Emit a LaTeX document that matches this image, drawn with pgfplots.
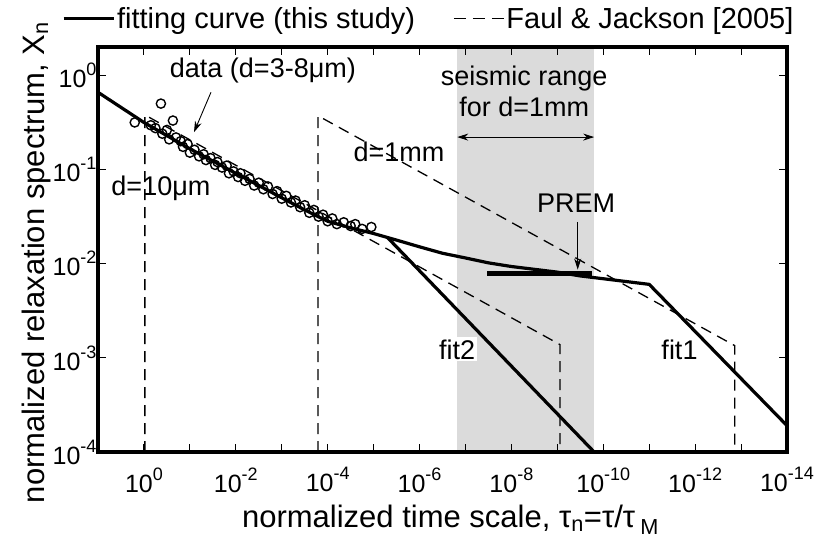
\documentclass[border=0pt]{standalone}
\usepackage{fontspec}
\setmainfont{Liberation Sans}
\usepackage{pgfplots}
\pgfplotsset{compat=1.18}
\usetikzlibrary{arrows.meta}
\newcommand{\tp}[1]{10\raisebox{12bp}{\fontsize{18bp}{18bp}\selectfont #1}}
\begin{document}
\begin{tikzpicture}
\begin{axis}[
  name=ax, at={(0bp,0bp)}, anchor=south west,
  scale only axis, width=689bp, height=405bp,
  xmode=log, ymode=log, x dir=reverse,
  xmin=1e-14, xmax=10, ymin=1e-4, ymax=2,
  axis on top,
  axis line style={line width=3.5bp},
  tick align=inside,
  major tick length=8bp, minor tick length=4.5bp,
  every tick/.style={black, line width=0.9bp},
  xtick={1,1e-1,1e-2,1e-3,1e-4,1e-5,1e-6,1e-7,1e-8,1e-9,1e-10,1e-11,1e-12,1e-13,1e-14},
  xticklabels={\tp{0},,\tp{-2},,\tp{-4},,\tp{-6},,\tp{-8},,\tp{-10},,\tp{-12},,\tp{-14}},
  ytick={1,1e-1,1e-2,1e-3,1e-4},
  yticklabels={\tp{0},\tp{-1},\tp{-2},\tp{-3},\tp{-4}},
  ticklabel style={font=\fontsize{25bp}{29bp}\selectfont},
  yticklabel style={xshift=2bp},
  xticklabel style={yshift=-12bp},
  label style={font=\fontsize{31bp}{35bp}\selectfont},
  xlabel={normalized time scale, τ\textsubscript{n}=τ/τ\,\textsubscript{M}},
  xlabel style={xshift=8bp, yshift=-6bp},
  ylabel={normalized relaxation spectrum, X\textsubscript{n}},
  ylabel style={yshift=-5bp, xshift=-13bp},
  legend style={draw=none, fill=none, at={(0.48,1)}, anchor=south, yshift=14bp,
    font=\fontsize{29bp}{33bp}\selectfont, inner sep=1bp,
    /tikz/every even column/.append style={column sep=36bp}},
  legend columns=2,
  legend image code/.code={\draw[#1] (0bp,0bp) -- (50bp,0bp);},
]
% seismic range band
\addplot[fill=black!14, draw=none, forget plot] coordinates {(1.51e-7,1e-4) (1.51e-7,2) (1.58e-10,2) (1.58e-10,1e-4)} -- cycle;

\addlegendimage{black, line width=3bp}
\addlegendentry{fitting curve (this study)}
\addlegendimage{black, line width=1.3bp, dash pattern=on 12bp off 7bp}
\addlegendentry{Faul \& Jackson [2005]}

% Faul & Jackson d=10um
\addplot[black, line width=1.3bp, dash pattern=on 11bp off 7bp, forget plot] coordinates {(0.955,1e-4) (0.955,0.380) (8.71e-10,1.38e-3) (8.71e-10,1e-4)};
% Faul & Jackson d=1mm
\addplot[black, line width=1.3bp, dash pattern=on 11bp off 7bp, forget plot] coordinates {(1.62e-4,1e-4) (1.62e-4,0.372) (1.38e-13,1.35e-3) (1.38e-13,1e-4)};

% data
\addplot[only marks, mark=o, mark size=4.6bp, mark options={line width=1.4bp, black}, forget plot] coordinates {
(1.585,0.316) (0.708,0.295) (0.427,0.501) (0.234,0.331) (0.562,0.275) (0.398,0.240) (0.316,0.263) (0.282,0.209) (0.200,0.219) (0.158,0.200) (0.141,0.174) (0.112,0.186) (0.1,0.151) (0.0794,0.162) (0.0631,0.138) (0.0501,0.145) (0.0447,0.126) (0.0355,0.132) (0.0282,0.112) (0.0251,0.120) (0.0200,0.105) (0.0158,0.110) (0.0141,0.0912) (0.0112,0.0955) (8.91e-3,0.0832) (7.94e-3,0.0912) (6.31e-3,0.0759) (5.01e-3,0.0794) (3.98e-3,0.0676) (3.16e-3,0.0724) (2.51e-3,0.0617) (2.00e-3,0.0661) (1.58e-3,0.0550) (1.26e-3,0.0589) (1e-3,0.0490) (7.94e-4,0.0525) (6.31e-4,0.0447) (5.01e-4,0.0468) (3.98e-4,0.0398) (3.16e-4,0.0417) (2.51e-4,0.0347) (2.00e-4,0.0372) (1.58e-4,0.0316) (1.26e-4,0.0331) (1e-4,0.0282) (7.94e-5,0.0302) (6.31e-5,0.0263) (4.47e-5,0.0275) (3.16e-5,0.0251) (2.51e-5,0.0263) (1.78e-5,0.0234) (1.12e-5,0.0245)};

% fitting curve + fit1
\addplot[black, line width=3.2bp, line join=round, forget plot] coordinates {
(10,0.661) (3.162,0.457) (1,0.316) (0.3162,0.229) (0.1,0.166) (3.162e-2,0.123) (1e-2,0.0912) (3.162e-3,0.0676) (1e-3,0.0501) (3.162e-4,0.0372) (1e-4,0.0282) (3.162e-5,0.0240) (1e-5,0.0209) (3.162e-6,0.0178) (1e-6,0.0151) (3.162e-7,0.0129) (1e-7,0.0115) (3.162e-8,0.0102) (1e-8,0.00933) (3.162e-9,0.00871) (1e-9,0.00813) (3.162e-10,0.00741) (1e-10,0.00692) (3.162e-11,0.00646) (1e-11,0.00603) (1e-14,1.905e-4)};
% fit2
\addplot[black, line width=3.2bp, forget plot] coordinates {(5.01e-6,0.0190) (1.58e-10,1e-4)};
% PREM
\addplot[black, line width=5bp, forget plot] coordinates {(3.39e-8,0.00783) (1.74e-10,0.00783)};

% annotations
\node[font=\fontsize{27bp}{31bp}\selectfont] at (axis cs:2.57e-3,1.13) {data (d=3-8μm)};
\draw[-{Stealth[length=11bp,width=7bp]}, line width=0.9bp] (axis cs:3.47e-2,0.661) -- (axis cs:8.13e-2,0.249);
\node[font=\fontsize{27bp}{31bp}\selectfont] at (axis cs:0.427,0.0637) {d=10μm};
\node[font=\fontsize{27bp}{31bp}\selectfont] at (axis cs:2.8e-6,0.155) {d=1mm};
\node[font=\fontsize{27bp}{31bp}\selectfont] at (axis cs:5.25e-9,0.929) {seismic range};
\node[font=\fontsize{27bp}{31bp}\selectfont] at (axis cs:5.25e-9,0.458) {for d=1mm};
\draw[{Stealth[length=11bp,width=7bp]}-{Stealth[length=11bp,width=7bp]}, line width=0.9bp] (axis cs:1.51e-7,0.221) -- (axis cs:1.58e-10,0.221);
\node[font=\fontsize{27bp}{31bp}\selectfont] at (axis cs:3.89e-10,0.0442) {PREM};
\draw[-{Stealth[length=11bp,width=7bp]}, line width=0.9bp] (axis cs:3.6e-10,0.0278) -- (axis cs:3.6e-10,0.00865);
\node[font=\fontsize{27bp}{31bp}\selectfont, fill=white, inner sep=2bp] at (axis cs:1.51e-7,1.23e-3) {fit2};
\node[font=\fontsize{27bp}{31bp}\selectfont] at (axis cs:2.19e-12,1.23e-3) {fit1};
\end{axis}
\pgfresetboundingbox
\path[use as bounding box] (-98bp,-88bp) rectangle (716bp,452bp);
\end{tikzpicture}
\end{document}
